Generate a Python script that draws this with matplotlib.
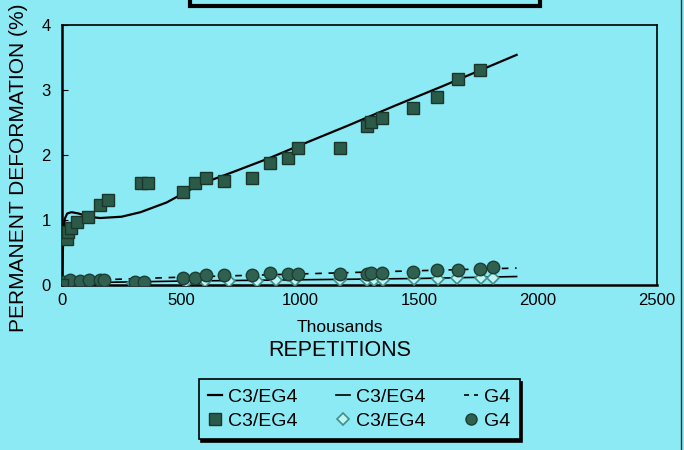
import numpy as np
import matplotlib
matplotlib.use("Agg")
import matplotlib.pyplot as plt
from matplotlib.patches import Rectangle
from matplotlib.lines import Line2D

plt.rcParams['font.family'] = ['Liberation Sans', 'DejaVu Sans']

# C3/EG4 squares (thousands of repetitions, % deformation)
sq_x = [0, 20, 25, 40, 65, 110, 160, 195, 330, 360, 510, 560, 605, 680, 800,
        875, 950, 990, 1170, 1280, 1300, 1345, 1475, 1575, 1665, 1755]
sq_y = [0.0, 0.70, 0.82, 0.88, 0.97, 1.05, 1.23, 1.31, 1.57, 1.57, 1.43, 1.57,
        1.65, 1.60, 1.65, 1.88, 1.95, 2.10, 2.10, 2.45, 2.50, 2.57, 2.72, 2.89,
        3.17, 3.30]

# C3/EG4 fitted curve
fit_x = [0, 6, 12, 22, 40, 70, 110, 160, 250, 330, 440, 580, 720, 870, 1000,
         1200, 1400, 1600, 1800, 1910]
fit_y = [0.05, 0.80, 1.02, 1.10, 1.12, 1.10, 1.05, 1.03, 1.05, 1.12, 1.27,
         1.55, 1.74, 1.95, 2.15, 2.45, 2.76, 3.06, 3.37, 3.54]

# C3/EG4 diamonds
dm_x = [20, 100, 300, 520, 600, 700, 820, 900, 980, 1170, 1280, 1310, 1350,
        1480, 1580, 1660, 1760, 1810]
dm_y = [0.02, 0.04, 0.03, 0.05, 0.06, 0.06, 0.06, 0.07, 0.07, 0.07, 0.08,
        0.08, 0.08, 0.09, 0.09, 0.10, 0.10, 0.11]
dm_fit_x = [0, 500, 1000, 1500, 1910]
dm_fit_y = [0.03, 0.06, 0.08, 0.10, 0.13]

# G4 circles
g4_x = [10, 35, 75, 115, 160, 175, 305, 345, 510, 560, 605, 680, 800, 875,
        950, 990, 1170, 1280, 1300, 1345, 1475, 1575, 1665, 1755, 1810]
g4_y = [0.05, 0.08, 0.06, 0.07, 0.07, 0.08, 0.05, 0.05, 0.11, 0.11, 0.15,
        0.15, 0.15, 0.18, 0.17, 0.17, 0.17, 0.17, 0.18, 0.18, 0.20, 0.23,
        0.23, 0.25, 0.28]
g4_fit_x = [0, 500, 1000, 1500, 1910]
g4_fit_y = [0.06, 0.12, 0.17, 0.22, 0.26]

bg = '#8ceaf4'
dark = '#2c5a48'

fig = plt.figure(figsize=(6.84, 4.5), dpi=100, facecolor=bg)
ax = fig.add_axes([0.0906, 0.3667, 0.87, 0.5778])
ax.set_facecolor(bg)

ax.plot(fit_x, fit_y, color='black', lw=1.6, zorder=2)
ax.plot(dm_fit_x, dm_fit_y, color='black', lw=1.2, zorder=2)
ax.plot(g4_fit_x, g4_fit_y, color='black', lw=1.2, ls=(0, (4, 4)), zorder=2)
ax.plot(dm_x, dm_y, ls='none', marker='D', ms=6, mfc='#bff4f4',
        mec='#3f8f8a', mew=1.2, zorder=3)
ax.plot(g4_x, g4_y, ls='none', marker='o', ms=9, mfc='#2f6050',
        mec='#1d3d33', mew=1, zorder=4)
ax.plot(sq_x, sq_y, ls='none', marker='s', ms=9, mfc=dark,
        mec='#1a352b', mew=1, zorder=5)

ax.set_xlim(0, 2500)
ax.set_ylim(0, 4)
ax.set_xticks([0, 500, 1000, 1500, 2000, 2500])
ax.set_yticks([0, 1, 2, 3, 4])
ax.tick_params(axis='x', length=0, labelsize=12, pad=6)
ax.tick_params(axis='y', direction='in', length=4, labelsize=12, pad=8)
for s in ['left', 'bottom']:
    ax.spines[s].set_linewidth(1.8)
for s in ['top', 'right']:
    ax.spines[s].set_linewidth(1.2)

fig.text(0.497, 0.273, 'Thousands', ha='center', va='center', fontsize=12.5)
fig.text(0.497, 0.222, 'REPETITIONS', ha='center', va='center', fontsize=15.5)
fig.text(0.027, 0.262, 'PERMANENT DEFORMATION (%)', rotation=90,
         ha='center', va='bottom', fontsize=15)

# title box edge and scan frame, cut off at the top/right
fig.add_artist(Rectangle((190 / 684, 1 - 6 / 450), 350 / 684, 0.1,
                         transform=fig.transFigure, facecolor=bg,
                         edgecolor='black', lw=3, clip_on=False))
fig.add_artist(Line2D([681 / 684, 681 / 684], [0, 1], color='#333333',
                      lw=1, transform=fig.transFigure))

handles = [
    Line2D([], [], color='black', lw=1.6),
    Line2D([], [], ls='none', marker='s', ms=8, mfc=dark, mec='#1a352b'),
    Line2D([], [], color='black', lw=1.2),
    Line2D([], [], ls='none', marker='D', ms=6, mfc='#bff4f4', mec='#3f8f8a', mew=1.2),
    Line2D([], [], color='black', lw=1.2, ls=(0, (3, 3))),
    Line2D([], [], ls='none', marker='o', ms=8, mfc='#2f6050', mec='#1d3d33'),
]
labels = ['C3/EG4', 'C3/EG4', 'C3/EG4', 'C3/EG4', 'G4', 'G4']
leg = fig.legend(handles, labels, ncol=3, loc='center',
                 bbox_to_anchor=(0.525, 0.091), fontsize=14, frameon=True,
                 fancybox=False, edgecolor='black', facecolor=bg,
                 framealpha=1, handlelength=0.7, handletextpad=0.3,
                 columnspacing=2.0, labelspacing=0.3, borderpad=0.5,
                 shadow={'color': 'black', 'alpha': 1})
leg.get_frame().set_linewidth(1.2)

fig.savefig('out.png', dpi=100, facecolor=bg)
